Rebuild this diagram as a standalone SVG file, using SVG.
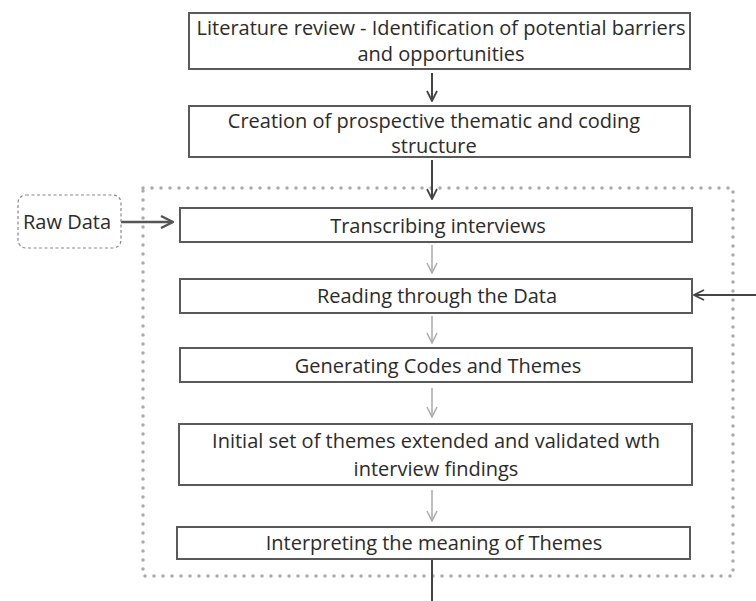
<svg xmlns="http://www.w3.org/2000/svg" width="756" height="601" viewBox="0 0 756 601">
<defs>
<marker id="ad" viewBox="0 0 12 12" refX="11" refY="6" markerWidth="12" markerHeight="12" markerUnits="userSpaceOnUse" orient="auto"><path d="M1,1 L11,6 L1,11" fill="none" stroke="#444" stroke-width="1.8"/></marker>
<marker id="ag" viewBox="0 0 12 12" refX="11" refY="6" markerWidth="12" markerHeight="12" markerUnits="userSpaceOnUse" orient="auto"><path d="M1,1 L11,6 L1,11" fill="none" stroke="#aaa" stroke-width="1.5"/></marker>
<marker id="ab" viewBox="0 0 14 14" refX="13" refY="7" markerWidth="14" markerHeight="14" markerUnits="userSpaceOnUse" orient="auto"><path d="M1,1 L13,7 L1,13" fill="none" stroke="#555" stroke-width="2.4"/></marker>
</defs>
<style>
.box{fill:#fff;stroke:#5a5a5a;stroke-width:2}
.t{font-family:"Open Sans","DejaVu Sans",sans-serif;font-size:20px;fill:#2b2b2b;text-anchor:middle}
.dk{stroke:#444;stroke-width:2;fill:none}
.gr{stroke:#aaa;stroke-width:1.5;fill:none}
.dot{fill:none;stroke:#aaa;stroke-width:3.5;stroke-linecap:round;stroke-dasharray:0 9}
</style>
<rect width="756" height="601" fill="#fff"/>
<g id="container"><rect x="143" y="188" width="590" height="388" class="dot"/></g>
<g id="connectors">
<line x1="432" y1="73" x2="432" y2="101" class="dk" marker-end="url(#ad)"/>
<line x1="432" y1="160" x2="432" y2="199" class="dk" marker-end="url(#ad)"/>
<line x1="121" y1="222" x2="173" y2="222" stroke="#555" stroke-width="2.6" marker-end="url(#ab)"/>
<line x1="432" y1="245" x2="432" y2="273" class="gr" marker-end="url(#ag)"/>
<line x1="756" y1="295" x2="694" y2="295" class="dk" marker-end="url(#ad)"/>
<line x1="432" y1="316" x2="432" y2="343" class="gr" marker-end="url(#ag)"/>
<line x1="432" y1="388" x2="432" y2="417" class="gr" marker-end="url(#ag)"/>
<line x1="432" y1="490" x2="432" y2="521" class="gr" marker-end="url(#ag)"/>
<line x1="432" y1="560" x2="432" y2="601" class="dk"/>
</g>
<g id="n1"><rect x="189" y="13" width="501" height="56" class="box"/><text class="t" x="441" y="35">Literature review - Identification of potential barriers</text><text class="t" x="441" y="61">and opportunities</text></g>
<g id="n2"><rect x="189" y="106" width="501" height="51" class="box"/><text class="t" x="434" y="128">Creation of prospective thematic and coding</text><text class="t" x="434" y="153">structure</text></g>
<g id="raw"><rect x="18" y="195" width="103" height="53" rx="8" fill="#fff" stroke="#888" stroke-width="1.2" stroke-dasharray="3 2.5"/><text class="t" x="67" y="229">Raw Data</text></g>
<g id="n3"><rect x="180" y="208" width="512" height="34" class="box"/><text class="t" x="438" y="233">Transcribing interviews</text></g>
<g id="n4"><rect x="180" y="279" width="512" height="34" class="box"/><text class="t" x="437" y="303">Reading through the Data</text></g>
<g id="n5"><rect x="180" y="348" width="512" height="34" class="box"/><text class="t" x="438" y="373">Generating Codes and Themes</text></g>
<g id="n6"><rect x="179" y="424" width="513" height="61" class="box"/><text class="t" x="436" y="448">Initial set of themes extended and validated wth</text><text class="t" x="436" y="476">interview findings</text></g>
<g id="n7"><rect x="177" y="527" width="513" height="32" class="box"/><text class="t" x="434" y="550">Interpreting the meaning of Themes</text></g>
</svg>
